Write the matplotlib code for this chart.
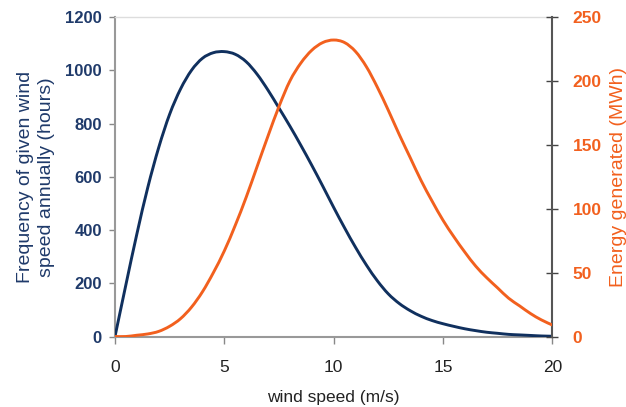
import matplotlib
matplotlib.use("Agg")
import numpy as np
import matplotlib.pyplot as plt
from matplotlib.path import Path
from matplotlib.patches import PathPatch

plt.rcParams['font.family'] = ['Liberation Sans', 'DejaVu Sans']

wind_speed = [0, 0.5, 1, 1.5, 2, 2.5, 3, 3.5, 4, 4.5, 5, 5.5, 6, 6.5, 7, 7.5, 8, 8.5, 9, 9.5,
              10, 10.5, 11, 11.5, 12, 12.5, 13, 13.5, 14, 14.5, 15, 15.5, 16, 16.5, 17, 17.5,
              18, 18.5, 19, 19.5, 20]
frequency_hours = [0, 195, 385, 560, 710, 835, 930, 1000, 1045, 1066, 1070, 1060, 1032, 985,
                   925, 858, 790, 718, 643, 565, 485, 408, 335, 268, 209, 160, 124, 97, 76,
                   60, 48, 38, 29, 22, 16, 12, 8, 6, 4, 2, 1]
energy_mwh = [0, 0, 1, 2, 4, 8, 14, 23, 35, 50, 67, 87, 109, 133, 157, 180, 200, 214, 224,
              230, 232, 230, 223, 211, 195, 177, 158, 140, 122, 106, 91, 78, 66, 55, 46, 38,
              30, 24, 18, 13, 9]

x_ticks = [0, 5, 10, 15, 20]
left_ticks = [0, 200, 400, 600, 800, 1000, 1200]
right_ticks = [0, 50, 100, 150, 200, 250]

navy = '#10305E'
navy_text = '#1F3A6A'
orange = '#F2601E'


def smooth_curve(ax, xs, ys, color, lw):
    pts = np.column_stack([xs, ys]).astype(float)
    n = len(pts)
    verts = [pts[0]]
    codes = [Path.MOVETO]
    for i in range(n - 1):
        p0 = pts[i - 1] if i > 0 else pts[i]
        p1 = pts[i]
        p2 = pts[i + 1]
        p3 = pts[i + 2] if i + 2 < n else pts[i + 1]
        c1 = p1 + (p2 - p0) / 6.0
        c2 = p2 - (p3 - p1) / 6.0
        verts += [c1, c2, p2]
        codes += [Path.CURVE4] * 3
    patch = PathPatch(Path(verts, codes), fill=False, edgecolor=color, lw=lw,
                      capstyle='round', joinstyle='round', zorder=3)
    ax.add_patch(patch)


fig = plt.figure(figsize=(6.26, 4.07), dpi=100)
ax = fig.add_axes([0.1837, 0.1732, 0.8823 - 0.1837, 0.9582 - 0.1732])
ax2 = ax.twinx()

smooth_curve(ax, wind_speed, frequency_hours, navy, 2.1)
smooth_curve(ax2, wind_speed, energy_mwh, orange, 2.1)

ax.set_xlim(0, 20)
ax.set_ylim(0, 1200)
ax2.set_ylim(0, 250)

ax.set_xticks(x_ticks)
ax.set_xticklabels([str(v) for v in x_ticks], fontsize=12.5, color='#222222')
ax.set_yticks(left_ticks)
ax.set_yticklabels([str(v) for v in left_ticks], fontsize=12, fontweight='bold', color=navy_text)
ax2.set_yticks(right_ticks)
ax2.set_yticklabels([str(v) for v in right_ticks], fontsize=12.5, fontweight='bold', color=orange)

ax.tick_params(axis='x', direction='out', length=5, width=1, color='#888888', pad=12)
ax.tick_params(axis='y', direction='out', length=4, width=1, color='#888888', pad=5.5)
ax2.tick_params(axis='y', direction='inout', length=9, width=1, color='#444444', pad=10)

for s in ['left', 'bottom']:
    ax.spines[s].set_color('#999999')
    ax.spines[s].set_linewidth(1.5)
ax.spines['top'].set_color('#dddddd')
ax.spines['top'].set_linewidth(1)
ax.spines['right'].set_visible(False)
ax2.spines['left'].set_visible(False)
ax2.spines['bottom'].set_visible(False)
ax2.spines['top'].set_visible(False)
ax2.spines['right'].set_color('#555555')
ax2.spines['right'].set_linewidth(1.5)

ax.set_xlabel('wind speed (m/s)', fontsize=12.5, color='#222222', labelpad=11)
ax.set_ylabel('Frequency of given wind\nspeed annually (hours)', fontsize=14, color=navy_text,
              labelpad=7, linespacing=1.35)
ax2.set_ylabel('Energy generated (MWh)', fontsize=14, color=orange, labelpad=6)

fig.savefig('out.png', dpi=100)
